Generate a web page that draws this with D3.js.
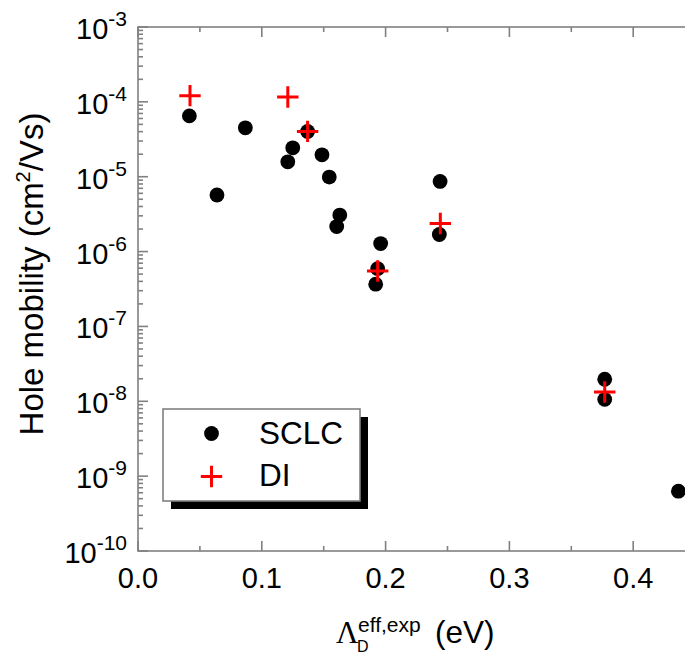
<!DOCTYPE html>
<html>
<head>
<meta charset="utf-8">
<script src="https://cdn.jsdelivr.net/npm/d3@7"></script>
<style>
  html, body { margin: 0; padding: 0; background: #fff; overflow: hidden; }
  text { font-family: "Liberation Sans", Arial, sans-serif; fill: #000; }
</style>
</head>
<body>
<svg id="chart" width="685" height="658"></svg>
<script>
// --- Data ---
const sclcX = [0.0415, 0.0638, 0.0867, 0.121, 0.125, 0.137, 0.1486, 0.1545, 0.1605, 0.163,
  0.192, 0.1936, 0.196, 0.2434, 0.244, 0.377, 0.377, 0.4365];
const sclcY = [6.5e-5, 5.7e-6, 4.5e-5, 1.58e-5, 2.43e-5, 4.03e-5, 1.96e-5, 9.9e-6, 2.16e-6, 3.07e-6,
  3.67e-7, 5.9e-7, 1.28e-6, 1.69e-6, 8.65e-6, 1.97e-8, 1.06e-8, 6.3e-10];
const diX = [0.042, 0.121, 0.137, 0.1936, 0.2442, 0.377];
const diY = [1.21e-4, 1.16e-4, 4.03e-5, 5.5e-7, 2.37e-6, 1.33e-8];

const xTicks = [0, 0.1, 0.2, 0.3, 0.4];
const xMinor = [0.05, 0.15, 0.25, 0.35];
const yExps = [-3, -4, -5, -6, -7, -8, -9, -10];
const seriesNames = ["SCLC", "DI"];

// --- Layout ---
const svg = d3.select("#chart");
const pL = 138, pT = 27, pB = 551;
const pR = pL + 0.45 * 1238; // right frame sits just past the window edge

const x = d3.scaleLinear().domain([0, 0.45]).range([pL, pR]);
const y = d3.scaleLog().domain([1e-10, 1e-3]).range([pB, pT]);

const axisColor = "#808080";
const frame = svg.append("g").attr("stroke", axisColor).attr("stroke-width", 1.6);

frame.append("rect")
  .attr("x", pL).attr("y", pT)
  .attr("width", pR - pL).attr("height", pB - pT)
  .attr("fill", "none");

// minor y ticks (2..9 per decade)
const yMinor = [];
for (let e = -10; e < -3; e++) for (let m = 2; m <= 9; m++) yMinor.push(m * Math.pow(10, e));

// y ticks on left and right, pointing inward
yExps.forEach((e) => {
  const v = Math.pow(10, e);
  frame.append("line").attr("x1", pL).attr("x2", pL + 10).attr("y1", y(v)).attr("y2", y(v));
  frame.append("line").attr("x1", pR).attr("x2", pR - 10).attr("y1", y(v)).attr("y2", y(v));
});
yMinor.forEach((v) => {
  frame.append("line").attr("x1", pL).attr("x2", pL + 5).attr("y1", y(v)).attr("y2", y(v));
  frame.append("line").attr("x1", pR).attr("x2", pR - 5).attr("y1", y(v)).attr("y2", y(v));
});

// x ticks on bottom and top
xTicks.forEach((v) => {
  frame.append("line").attr("x1", x(v)).attr("x2", x(v)).attr("y1", pB).attr("y2", pB - 10);
  frame.append("line").attr("x1", x(v)).attr("x2", x(v)).attr("y1", pT).attr("y2", pT + 10);
});
xMinor.forEach((v) => {
  frame.append("line").attr("x1", x(v)).attr("x2", x(v)).attr("y1", pB).attr("y2", pB - 5);
  frame.append("line").attr("x1", x(v)).attr("x2", x(v)).attr("y1", pT).attr("y2", pT + 5);
});

// x tick labels
svg.append("g").selectAll("text")
  .data(xTicks)
  .join("text")
  .attr("x", (d) => x(d))
  .attr("y", pB + 37)
  .attr("text-anchor", "middle")
  .attr("font-size", 29)
  .text((d) => d.toFixed(1));

// y tick labels: 10^e
const yl = svg.append("g").selectAll("text")
  .data(yExps)
  .join("text")
  .attr("x", pL - 11)
  .attr("y", (d) => y(Math.pow(10, d)) + 12)
  .attr("text-anchor", "end")
  .attr("font-size", 29);
yl.append("tspan").text("10");
yl.append("tspan").attr("dy", -13).attr("font-size", 21).text((d) => "-" + Math.abs(d));

// --- Data marks ---
const sclc = sclcX.map((v, i) => ({ x: v, y: sclcY[i] }));
const di = diX.map((v, i) => ({ x: v, y: diY[i] }));

svg.append("g").selectAll("circle")
  .data(sclc)
  .join("circle")
  .attr("cx", (d) => x(d.x))
  .attr("cy", (d) => y(d.y))
  .attr("r", 7.4)
  .attr("fill", "#000");

const plus = (s) => `M${-s},0H${s}M0,${-s}V${s}`;
svg.append("g").selectAll("path")
  .data(di)
  .join("path")
  .attr("transform", (d) => `translate(${x(d.x)},${y(d.y)})`)
  .attr("d", plus(10.7))
  .attr("stroke", "#ff0000")
  .attr("stroke-width", 3)
  .attr("fill", "none");

// --- Legend ---
const lg = svg.append("g").attr("transform", "translate(163,409)");
const lw = 197, lh = 92;
lg.append("rect").attr("x", 8).attr("y", 8).attr("width", lw).attr("height", lh).attr("fill", "#000");
lg.append("rect").attr("width", lw).attr("height", lh)
  .attr("fill", "#fff").attr("stroke", axisColor).attr("stroke-width", 1.6);

lg.append("circle").attr("cx", 48.5).attr("cy", 24.5).attr("r", 7.4).attr("fill", "#000");
lg.append("path").attr("transform", "translate(48.5,67.5)").attr("d", plus(10.7))
  .attr("stroke", "#ff0000").attr("stroke-width", 3).attr("fill", "none");

lg.selectAll("text.lbl")
  .data(seriesNames)
  .join("text")
  .attr("class", "lbl")
  .attr("x", 96)
  .attr("y", (d, i) => 34.5 + i * 42)
  .attr("font-size", 31.5)
  .text((d) => d);

// --- Axis titles ---
const xt = svg.append("g");
xt.append("text").attr("x", 336).attr("y", 643)
  .style("font-family", "'Liberation Serif', serif").attr("font-size", 31).text("Λ");
xt.append("text").attr("x", 357).attr("y", 651.5).attr("font-size", 16).text("D");
xt.append("text").attr("x", 358).attr("y", 632).attr("font-size", 21).text("eff,exp");
xt.append("text").attr("x", 435).attr("y", 643).attr("font-size", 31.5).text("(eV)");

const yt = svg.append("text")
  .attr("transform", "translate(43,274) rotate(-90)")
  .attr("text-anchor", "middle")
  .attr("font-size", 33);
yt.append("tspan").text("Hole mobility (cm");
yt.append("tspan").attr("dy", -13).attr("font-size", 20).text("2");
yt.append("tspan").attr("dy", 13).text("/Vs)");
</script>
</body>
</html>
